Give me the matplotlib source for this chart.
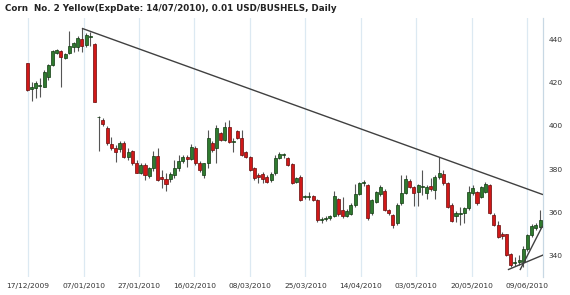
import matplotlib
matplotlib.use("Agg")
import matplotlib.pyplot as plt
import numpy as np

# ---- data (index = trading day) ----
opens = [429.2, 417.0, 417.7, 418.5, 418.3, 423.0, 428.4, 433.9, 435.0, 431.6,
         433.8, 436.9, 436.9, 440.3, 437.7, 441.5, 438.0, 404.0, 402.8, 399.0,
         391.5, 389.8, 389.2, 392.0, 385.7, 388.5, 382.6, 378.3, 382.0, 376.7,
         380.3, 386.0, 376.3, 375.2, 375.2, 377.0, 380.3, 383.9, 385.5, 384.5,
         389.6, 382.6, 377.2, 382.6, 391.9, 389.6, 396.6, 393.5, 399.7, 392.5,
         397.7, 394.3, 387.8, 385.7, 380.5, 377.2, 377.5, 376.4, 374.8, 378.0,
         385.0, 386.4, 385.0, 382.3, 374.0, 376.2, 367.0, 367.2, 367.6, 365.6,
         356.4, 356.7, 357.0, 358.3, 366.0, 361.0, 358.3, 359.2, 363.3, 368.5,
         373.4, 372.6, 359.4, 364.8, 368.3, 370.0, 360.9, 358.6, 354.7, 364.0,
         369.0, 374.5, 371.5, 369.5, 371.6, 369.0, 372.3, 370.2, 376.4, 377.8,
         373.3, 363.5, 358.0, 359.3, 359.5, 361.8, 368.7, 369.5, 367.1, 369.5,
         372.6, 358.6, 354.0, 349.8, 349.6, 340.3, 336.4, 336.8, 336.8, 342.8,
         349.1, 352.8, 353.2]
highs = [429.5, 420.5, 421.0, 422.3, 426.0, 429.0, 435.5, 436.0, 435.5, 434.0,
         444.2, 439.0, 442.0, 445.4, 443.0, 443.5, 438.5, 404.5, 403.5, 400.0,
         395.0, 391.0, 393.0, 393.0, 390.0, 389.0, 384.0, 383.0, 383.0, 381.0,
         388.5, 389.6, 379.5, 378.0, 378.5, 384.0, 386.5, 386.5, 386.5, 391.5,
         390.5, 383.5, 383.0, 398.1, 393.0, 400.5, 397.0, 402.0, 402.8, 394.3,
         398.0, 398.0, 388.5, 386.0, 381.0, 378.0, 378.5, 377.0, 378.5, 386.5,
         387.8, 387.5, 385.5, 382.6, 376.5, 377.0, 368.0, 369.5, 368.0, 366.0,
         357.5, 358.0, 358.5, 369.7, 366.5, 367.0, 361.5, 364.0, 373.0, 374.0,
         375.0, 373.0, 366.0, 370.0, 372.5, 370.5, 361.5, 359.0, 364.0, 377.0,
         377.0, 375.5, 372.0, 373.0, 379.5, 372.5, 376.0, 377.0, 385.5, 379.5,
         374.0, 364.0, 360.5, 362.5, 362.5, 372.0, 372.6, 370.0, 372.0, 374.0,
         373.0, 359.5, 356.0, 350.5, 350.0, 341.0, 339.0, 340.0, 344.0, 350.0,
         354.5, 355.0, 360.9]
lows = [416.3, 411.5, 413.0, 413.5, 418.0, 421.5, 427.7, 433.5, 418.3, 431.0,
        433.5, 434.5, 435.0, 434.6, 436.7, 437.0, 411.0, 388.5, 400.0, 391.0,
        389.0, 383.4, 388.0, 385.0, 384.0, 382.0, 378.0, 377.5, 375.0, 376.0,
        379.0, 374.5, 371.0, 369.8, 374.0, 376.0, 379.0, 383.0, 381.0, 384.0,
        382.0, 378.5, 376.0, 380.3, 388.0, 382.6, 393.0, 393.0, 392.0, 388.0,
        394.0, 386.0, 385.0, 379.0, 375.0, 373.3, 373.5, 373.5, 374.0, 377.0,
        384.5, 385.0, 381.5, 373.0, 373.5, 365.0, 366.0, 365.6, 365.0, 355.5,
        355.0, 356.0, 356.5, 357.5, 358.0, 357.0, 357.5, 358.5, 362.5, 368.0,
        372.0, 356.5, 358.5, 364.0, 367.5, 360.5, 358.5, 352.5, 354.0, 363.5,
        368.5, 371.0, 363.0, 363.0, 368.0, 366.0, 370.0, 366.0, 375.5, 372.5,
        362.0, 355.5, 355.5, 354.0, 355.0, 361.0, 368.0, 363.5, 366.5, 369.0,
        359.0, 353.5, 348.0, 347.5, 339.5, 334.5, 334.8, 335.5, 334.5, 342.0,
        348.5, 351.5, 352.5]
closes = [416.7, 418.0, 420.0, 419.0, 425.3, 428.4, 435.0, 435.3, 432.2, 433.5,
          437.2, 438.5, 441.0, 437.2, 442.3, 442.0, 411.3, 404.2, 401.0, 392.0,
          389.6, 388.0, 392.2, 385.7, 388.0, 382.6, 378.3, 381.9, 377.2, 380.3,
          386.0, 375.0, 375.5, 373.0, 377.7, 380.6, 383.7, 385.7, 384.8, 390.4,
          382.6, 379.5, 382.6, 394.3, 388.8, 398.9, 393.5, 399.7, 392.7, 392.9,
          394.3, 386.5, 385.7, 379.5, 376.0, 376.4, 375.3, 374.1, 377.8, 385.0,
          387.2, 386.6, 382.0, 373.5, 375.8, 365.8, 367.3, 367.6, 365.8, 356.3,
          356.8, 357.2, 358.0, 367.6, 359.0, 358.0, 360.5, 363.3, 368.3, 373.3,
          374.0, 357.1, 365.6, 369.2, 371.5, 361.0, 359.4, 354.0, 363.5, 369.0,
          375.3, 371.8, 369.0, 372.5, 372.0, 371.8, 370.8, 376.4, 378.0, 373.3,
          362.5, 356.0, 359.4, 359.7, 361.8, 369.3, 371.0, 364.0, 371.5, 373.2,
          359.5, 354.0, 348.5, 349.0, 340.0, 335.6, 336.8, 337.6, 343.0, 349.2,
          353.5, 354.0, 356.3]

tick_labels = ["17/12/2009", "07/01/2010", "27/01/2010", "16/02/2010", "08/03/2010",
               "25/03/2010", "14/04/2010", "03/05/2010", "20/05/2010", "09/06/2010"]
y_ticks = [340, 360, 380, 400, 420, 440]

# trend line anchors: resistance through two highs, supports at the end
resist_idx = [13, 98]
support1_x = [114.5, 122.7]
support1_y = [333.3, 340.0]
support2_x = [117.3, 122.5]
support2_y = [333.3, 353.2]

title = "Corn  No. 2 Yellow(ExpDate: 14/07/2010), 0.01 USD/BUSHELS, Daily"

# ---- figure ----
fig = plt.figure(figsize=(5.7, 2.95), dpi=100)
fig.patch.set_facecolor("white")
ax = fig.add_axes([0.0, 0.061, 0.9526, 0.878])

o = np.array(opens); h = np.array(highs); l = np.array(lows); c = np.array(closes)
x = np.arange(len(o))
up = c >= o

XMIN, XMAX = -6.5, 122.7
ax.set_xlim(XMIN, XMAX)
ax.set_ylim(329.8, 450.2)

# grid
ticks = 0.17 + 13.2 * np.arange(len(tick_labels))
for t in ticks:
    ax.axvline(t, color="#dce9f2", lw=0.9, zorder=0)

# wicks
ax.vlines(x, l, h, color="#555555", lw=0.8, zorder=2)
# bodies
bw = 0.72
bottom = np.minimum(o, c)
height = np.maximum(np.abs(c - o), 0.35)
ax.bar(x[up], height[up], bottom=bottom[up], width=bw, color="#2f7a2f",
       edgecolor="#103a10", linewidth=0.5, zorder=3)
ax.bar(x[~up], height[~up], bottom=bottom[~up], width=bw, color="#d01818",
       edgecolor="#6a0a0a", linewidth=0.5, zorder=3)

# resistance line
i0, i1 = resist_idx
slope = (h[i1] - h[i0]) / (i1 - i0)
rx = np.array([i0, XMAX])
ry = h[i0] + slope * (rx - i0)
ax.plot(rx, ry, color="#404040", lw=1.0, zorder=4, solid_capstyle="butt")
ax.plot(support1_x, support1_y, color="#404040", lw=1.0, zorder=4)
ax.plot(support2_x, support2_y, color="#404040", lw=1.0, zorder=4)

# axes styling
for s in ["left", "top", "bottom"]:
    ax.spines[s].set_visible(False)
ax.spines["right"].set_color("#c8d8e4")
ax.spines["right"].set_linewidth(0.9)
ax.yaxis.tick_right()
ax.set_yticks(y_ticks)
ax.set_yticklabels([str(v) for v in y_ticks])
ax.set_xticks(ticks)
ax.set_xticklabels(tick_labels)
ax.tick_params(axis="y", length=0, pad=4, labelsize=5.4, labelcolor="#333333")
ax.tick_params(axis="x", length=0, pad=4, labelsize=5.4, labelcolor="#333333")

fig.text(0.008, 0.985, title, fontsize=6.3, fontweight="bold", va="top", ha="left",
         color="#222222")

fig.savefig("out.png", dpi=100, facecolor="white")
